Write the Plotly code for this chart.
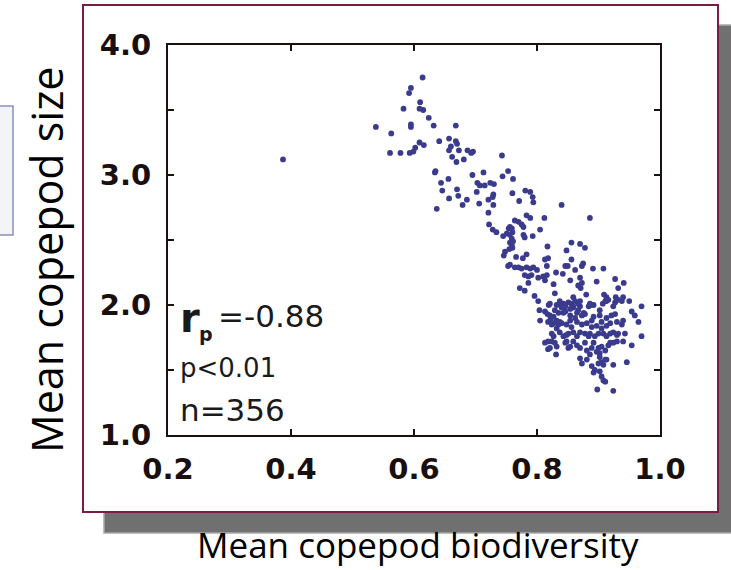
import plotly.graph_objects as go

# Station means: copepod biodiversity (x) vs mean copepod size (y)
biodiversity = [
    0.614, 0.595, 0.592, 0.610, 0.583, 0.609, 0.615, 0.624, 0.595, 0.595,
    0.538, 0.632, 0.668, 0.563, 0.641, 0.657, 0.668, 0.670, 0.609, 0.616,
    0.660, 0.657, 0.673, 0.602, 0.599, 0.593, 0.561, 0.578, 0.687, 0.696,
    0.693, 0.662, 0.669, 0.681, 0.743, 0.635, 0.634, 0.695, 0.713, 0.753,
    0.744, 0.656, 0.644, 0.703, 0.707, 0.715, 0.724, 0.730, 0.670, 0.646,
    0.702, 0.729, 0.657, 0.672, 0.686, 0.679, 0.637, 0.706, 0.721, 0.728,
    0.729, 0.721, 0.722, 0.728, 0.734, 0.745, 0.751, 0.754, 0.748, 0.746,
    0.753, 0.771, 0.793, 0.794, 0.840, 0.886, 0.783, 0.789, 0.764, 0.770,
    0.775, 0.778, 0.812, 0.756, 0.759, 0.760, 0.756, 0.759, 0.761, 0.759,
    0.760, 0.805, 0.778, 0.780, 0.793, 0.856, 0.870, 0.878, 0.817, 0.848,
    0.783, 0.766, 0.777, 0.813, 0.818, 0.856, 0.875, 0.873, 0.846, 0.850,
    0.816, 0.756, 0.764, 0.770, 0.775, 0.783, 0.789, 0.794, 0.800, 0.862,
    0.891, 0.908, 0.831, 0.842, 0.780, 0.786, 0.791, 0.802, 0.810, 0.816,
    0.813, 0.870, 0.873, 0.867, 0.871, 0.854, 0.897, 0.927, 0.941, 0.827,
    0.786, 0.772, 0.780, 0.932, 0.829, 0.880, 0.909, 0.913, 0.916, 0.796,
    0.837, 0.843, 0.859, 0.862, 0.867, 0.886, 0.892, 0.928, 0.938, 0.950,
    0.907, 0.911, 0.821, 0.832, 0.970, 0.859, 0.870, 0.802, 0.819, 0.804,
    0.813, 0.817, 0.821, 0.827, 0.829, 0.835, 0.832, 0.835, 0.832, 0.837,
    0.805, 0.818, 0.824, 0.822, 0.827, 0.813, 0.818, 0.824, 0.829, 0.818,
    0.831, 0.840, 0.846, 0.851, 0.856, 0.859, 0.870, 0.887, 0.913, 0.927,
    0.843, 0.854, 0.865, 0.873, 0.878, 0.862, 0.892, 0.902, 0.913, 0.921,
    0.927, 0.954, 0.959, 0.965, 0.840, 0.848, 0.856, 0.859, 0.851, 0.843,
    0.873, 0.881, 0.889, 0.897, 0.905, 0.913, 0.919, 0.930, 0.938, 0.870,
    0.878, 0.886, 0.894, 0.900, 0.908, 0.913, 0.924, 0.932, 0.943, 0.940,
    0.954, 0.970, 0.848, 0.859, 0.865, 0.854, 0.870, 0.878, 0.881, 0.892,
    0.889, 0.897, 0.905, 0.902, 0.911, 0.916, 0.924, 0.930, 0.870, 0.881,
    0.873, 0.902, 0.905, 0.911, 0.908, 0.946, 0.889, 0.894, 0.892, 0.902,
    0.905, 0.908, 0.898, 0.924, 0.840, 0.846, 0.854, 0.867, 0.876, 0.884,
    0.902, 0.924, 0.932, 0.940, 0.827, 0.837, 0.854, 0.865, 0.889, 0.905,
    0.940, 0.824, 0.848, 0.865, 0.884, 0.919, 0.930, 0.821, 0.832, 0.846,
    0.851, 0.900, 0.919, 0.886, 0.900, 0.913, 0.924, 0.911, 0.781, 0.789,
    0.760, 0.761, 0.756, 0.755, 0.387,
]
mean_size = [
    3.75, 3.67, 3.63, 3.56, 3.51, 3.51, 3.50, 3.44, 3.39, 3.37,
    3.37, 3.38, 3.38, 3.32, 3.26, 3.28, 3.26, 3.24, 3.25, 3.23,
    3.22, 3.19, 3.19, 3.21, 3.18, 3.17, 3.17, 3.17, 3.19, 3.18,
    3.17, 3.14, 3.10, 3.12, 3.15, 3.03, 3.02, 3.00, 3.02, 3.03,
    2.99, 2.97, 2.94, 2.94, 2.92, 2.92, 2.94, 2.93, 2.89, 2.88,
    2.87, 2.85, 2.82, 2.84, 2.81, 2.77, 2.74, 2.78, 2.81, 2.83,
    2.77, 2.71, 2.62, 2.58, 2.56, 2.53, 2.55, 2.59, 2.41, 2.38,
    2.30, 2.80, 2.83, 2.79, 2.77, 2.67, 2.69, 2.67, 2.65, 2.64,
    2.62, 2.60, 2.67, 2.60, 2.59, 2.56, 2.54, 2.51, 2.49, 2.46,
    2.44, 2.58, 2.54, 2.52, 2.53, 2.48, 2.47, 2.44, 2.45, 2.42,
    2.39, 2.37, 2.36, 2.35, 2.36, 2.35, 2.32, 2.30, 2.30, 2.30,
    2.30, 2.31, 2.29, 2.29, 2.28, 2.29, 2.28, 2.29, 2.27, 2.27,
    2.28, 2.28, 2.25, 2.24, 2.23, 2.22, 2.23, 2.21, 2.22, 2.23,
    2.19, 2.21, 2.17, 2.15, 2.13, 2.19, 2.18, 2.20, 2.17, 2.16,
    2.17, 2.13, 2.11, 2.13, 2.09, 2.08, 2.08, 2.06, 2.04, 2.07,
    2.03, 2.01, 2.06, 2.03, 2.01, 2.01, 2.00, 2.06, 2.03, 2.03,
    2.01, 2.03, 2.01, 2.00, 1.99, 1.99, 1.99, 2.03, 2.00, 1.96,
    1.95, 1.93, 1.92, 1.91, 1.96, 1.94, 1.88, 1.85, 1.82, 1.79,
    1.88, 1.87, 1.85, 1.89, 1.76, 1.71, 1.72, 1.72, 1.71, 1.66,
    1.62, 2.00, 1.99, 2.02, 2.01, 1.98, 2.03, 2.00, 2.03, 2.02,
    1.94, 1.92, 1.94, 1.92, 1.93, 1.90, 1.91, 1.92, 1.90, 1.92,
    1.93, 1.95, 1.92, 1.87, 1.86, 1.85, 1.83, 1.79, 1.78, 1.76,
    1.85, 1.86, 1.83, 1.84, 1.82, 1.84, 1.86, 1.87, 1.85, 1.79,
    1.78, 1.78, 1.76, 1.78, 1.78, 1.76, 1.79, 1.78, 1.78, 1.72,
    1.69, 1.76, 1.72, 1.72, 1.69, 1.68, 1.67, 1.71, 1.65, 1.71,
    1.67, 1.64, 1.68, 1.63, 1.65, 1.69, 1.71, 1.72, 1.59, 1.58,
    1.55, 1.60, 1.56, 1.58, 1.54, 1.56, 1.53, 1.50, 1.48, 1.49,
    1.45, 1.42, 1.35, 1.34, 1.98, 1.95, 1.97, 1.96, 1.94, 1.99,
    1.96, 1.99, 2.04, 2.06, 1.86, 1.87, 1.88, 1.87, 1.88, 1.87,
    1.88, 1.78, 1.77, 1.76, 1.76, 1.78, 1.77, 1.67, 1.68, 1.71,
    1.67, 1.67, 1.71, 1.62, 1.55, 1.58, 1.54, 1.41, 2.88, 2.87,
    2.86, 2.97, 2.48, 2.43, 3.12,
]

x_ticks = [0.2, 0.4, 0.6, 0.8, 1.0]
x_tick_labels = ["0.2", "0.4", "0.6", "0.8", "1.0"]
y_ticks = [1.0, 1.5, 2.0, 2.5, 3.0, 3.5, 4.0]
y_tick_labels = ["1.0", "", "2.0", "", "3.0", "", "4.0"]

W, H = 731, 570


def fx(p):
    return p / W


def fy(p):
    return 1 - p / H


AXIS_COLOR = "#1c1010"
TICK_FONT = dict(family="DejaVu Sans", size=29, color="#1a0f0f", weight="bold")

fig = go.Figure()
fig.add_trace(go.Scatter(
    x=biodiversity, y=mean_size, mode="markers",
    marker=dict(color="#3b3b8e", size=5.8, line=dict(width=0)),
    showlegend=False, hoverinfo="x+y",
))

axis_common = dict(
    showline=True, linecolor=AXIS_COLOR, linewidth=2, mirror="ticks",
    ticks="inside", ticklen=6, tickwidth=1.5, tickcolor=AXIS_COLOR,
    showgrid=False, zeroline=False, tickfont=TICK_FONT, automargin=False,
)
fig.update_xaxes(range=[0.2, 1.0], tickvals=x_ticks, ticktext=x_tick_labels,
                 domain=[fx(168), fx(660)], ticklabelstandoff=7, **axis_common)
fig.update_yaxes(range=[1.0, 4.0], tickvals=y_ticks, ticktext=y_tick_labels,
                 domain=[fy(435), fy(45)], ticklabelstandoff=9, **axis_common)

shapes = [
    # drop shadow behind the figure panel
    dict(type="rect", xref="paper", yref="paper", layer="below",
         x0=fx(104), x1=fx(740), y0=fy(533), y1=fy(25),
         fillcolor="#707070", line=dict(color="#a8a8a8", width=1.5)),
    # white figure panel with maroon frame
    dict(type="rect", xref="paper", yref="paper", layer="below",
         x0=fx(83), x1=fx(718), y0=fy(512), y1=fy(5),
         fillcolor="white", line=dict(color="#7d1a45", width=2)),
    # edge of the neighbouring box on the left
    dict(type="rect", xref="paper", yref="paper", layer="below",
         x0=fx(-10), x1=fx(13), y0=fy(235), y1=fy(106),
         fillcolor="#f3f4fa", line=dict(color="#8591bd", width=1.5)),
]

TXT = "DejaVu Sans"
annotations = [
    dict(text="Mean copepod size", textangle=-90, x=fx(46), y=fy(260),
         font=dict(family="Open Sans", size=43, color="black")),
    dict(text="Mean copepod biodiversity", x=fx(418), y=fy(544),
         font=dict(family="Open Sans", size=35, color="black")),
    dict(text="r", x=fx(178), y=fy(318), xanchor="left",
         font=dict(family=TXT, size=40, color="#1a1a1a", weight="bold")),
    dict(text="p", x=fx(197), y=fy(334), xanchor="left",
         font=dict(family=TXT, size=19, color="#1a1a1a", weight="bold")),
    dict(text="=-0.88", x=fx(216), y=fy(316), xanchor="left",
         font=dict(family=TXT, size=31, color="#1a1a1a")),
    dict(text="p<0.01", x=fx(178), y=fy(368), xanchor="left",
         font=dict(family=TXT, size=26, color="#1a1a1a")),
    dict(text="n=356", x=fx(178), y=fy(410), xanchor="left",
         font=dict(family=TXT, size=31, color="#1a1a1a")),
]
for a in annotations:
    a.update(xref="paper", yref="paper", showarrow=False)
    a.setdefault("xanchor", "center")
    a.setdefault("yanchor", "middle")

fig.update_layout(
    width=W, height=H, margin=dict(l=0, r=0, t=0, b=0, pad=0),
    paper_bgcolor="white", plot_bgcolor="white",
    shapes=shapes, annotations=annotations,
)

fig.write_html("out.html")
